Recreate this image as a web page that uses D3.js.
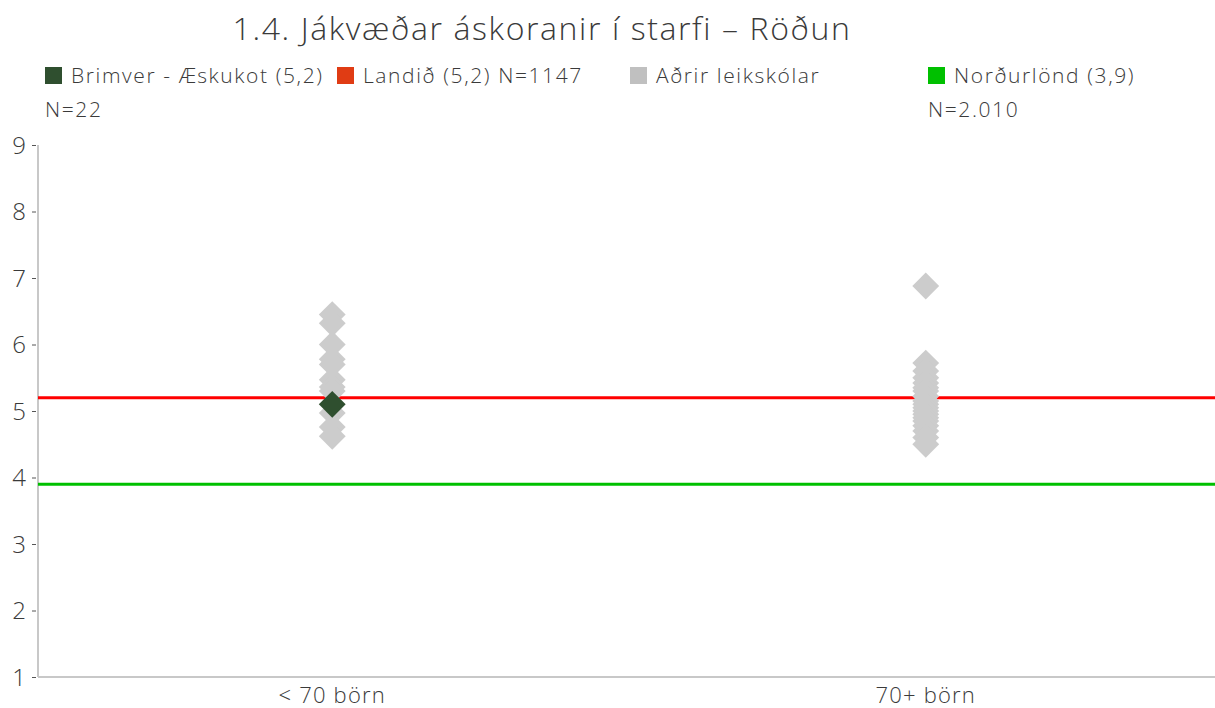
<!DOCTYPE html>
<html>
<head>
<meta charset="utf-8">
<script src="https://cdn.jsdelivr.net/npm/d3@7"></script>
<style>
  body { margin: 0; background: #fff; }
  #chart { width: 1215px; height: 708px; }
  text { font-family: "Open Sans", "Noto Sans", sans-serif; font-weight: 300; fill: #3a3a3a; }
</style>
</head>
<body>
<div id="chart"></div>
<script>
// Chart values
const categories = ['< 70 börn', '70+ börn'];
const otherSmall = [6.45, 6.32, 6.0, 5.78, 5.7, 5.47, 5.36, 5.3, 4.97, 4.76, 4.62];
const otherLarge = [6.88, 5.72, 5.6, 5.5, 5.42, 5.35, 5.3, 5.22, 5.15, 5.1, 5.05, 5.0,
                    4.95, 4.9, 4.85, 4.78, 4.7, 4.6, 4.5];
const ownSchool = [{ cat: '< 70 börn', value: 5.1 }];
const countryValue = 5.2;
const nordicValue = 3.9;
const yTicks = [1, 2, 3, 4, 5, 6, 7, 8, 9];
const legendItems = [
  { label: 'Brimver - Æskukot (5,2)', sub: 'N=22', color: '#2f4f2f' },
  { label: 'Landið (5,2) N=1147', sub: '', color: '#e03c14' },
  { label: 'Aðrir leikskólar', sub: '', color: '#c0c0c0' },
  { label: 'Norðurlönd (3,9)', sub: 'N=2.010', color: '#00c000' }
];
const title = '1.4. Jákvæðar áskoranir í starfi – Röðun';

const margin = { top: 145, right: 0, bottom: 31, left: 38 };
const svgWidth = 1215, svgHeight = 708;
const width = svgWidth - margin.left - margin.right;
const height = svgHeight - margin.top - margin.bottom;

const svg = d3.select('#chart').append('svg')
  .attr('width', svgWidth)
  .attr('height', svgHeight);

// Title
svg.append('text')
  .attr('x', 542).attr('y', 40)
  .attr('text-anchor', 'middle')
  .style('font-size', '32px')
  .style('letter-spacing', '1.6px')
  .text(title);

// Legend
const legendX = [45, 337, 630, 928];
const legend = svg.append('g').attr('class', 'legend');
legendItems.forEach((d, i) => {
  const g = legend.append('g').attr('transform', `translate(${legendX[i]}, 0)`);
  g.append('rect').attr('x', 0).attr('y', 67).attr('width', 17).attr('height', 17)
    .attr('fill', d.color);
  g.append('text').attr('x', 26).attr('y', 83)
    .style('font-size', '21px').style('letter-spacing', '1.6px').text(d.label);
  if (d.sub) {
    g.append('text').attr('x', 0).attr('y', 117)
      .style('font-size', '21px').style('letter-spacing', '1.6px').text(d.sub);
  }
});

const chart = svg.append('g')
  .attr('transform', `translate(${margin.left}, ${margin.top})`);

const x = d3.scalePoint().domain(categories).range([0, width]).padding(0.5);
const xPos = c => x(c) + (c === categories[1] ? 5 : 0);
const y = d3.scaleLinear().domain([1, 9]).range([height, 0]);

// Y axis
const yAxis = chart.append('g')
  .call(d3.axisLeft(y).tickValues(yTicks).tickSize(6).tickPadding(6).tickFormat(d3.format('d')));
yAxis.select('.domain').remove();
yAxis.selectAll('.tick line').attr('stroke', '#555').attr('x1', -6).attr('x2', -2);
yAxis.selectAll('.tick text').style('font-size', '24px').attr('fill', '#3a3a3a').attr('dy', '0.35em');

// Axis lines
chart.append('line')
  .attr('x1', 0).attr('x2', 0).attr('y1', 0).attr('y2', height)
  .attr('stroke', '#c8c8c8').attr('stroke-width', 2);
chart.append('line')
  .attr('x1', 0).attr('x2', width).attr('y1', height).attr('y2', height)
  .attr('stroke', '#c8c8c8').attr('stroke-width', 2);

// X labels
chart.selectAll('.xlabel').data(categories).enter().append('text')
  .attr('class', 'xlabel')
  .attr('x', d => xPos(d))
  .attr('y', height + 26)
  .attr('text-anchor', 'middle')
  .style('font-size', '22px')
  .style('letter-spacing', '1.2px')
  .text(d => d);

// Reference lines
chart.append('line')
  .attr('x1', 0).attr('x2', width)
  .attr('y1', y(countryValue)).attr('y2', y(countryValue))
  .attr('stroke', '#ff0000').attr('stroke-width', 3);
chart.append('line')
  .attr('x1', 0).attr('x2', width)
  .attr('y1', y(nordicValue)).attr('y2', y(nordicValue))
  .attr('stroke', '#00c000').attr('stroke-width', 3);

// Diamonds
const diamond = d3.symbol().type(d3.symbolSquare).size(360);
const others = otherSmall.map(v => ({ cat: categories[0], value: v }))
  .concat(otherLarge.map(v => ({ cat: categories[1], value: v })));

chart.selectAll('.other').data(others).enter().append('path')
  .attr('class', 'other')
  .attr('d', diamond)
  .attr('transform', d => `translate(${xPos(d.cat)}, ${y(d.value)}) rotate(45)`)
  .attr('fill', '#cccccc');

chart.selectAll('.own').data(ownSchool).enter().append('path')
  .attr('class', 'own')
  .attr('d', diamond)
  .attr('transform', d => `translate(${xPos(d.cat)}, ${y(d.value)}) rotate(45)`)
  .attr('fill', '#2f4f2f');
</script>
</body>
</html>
